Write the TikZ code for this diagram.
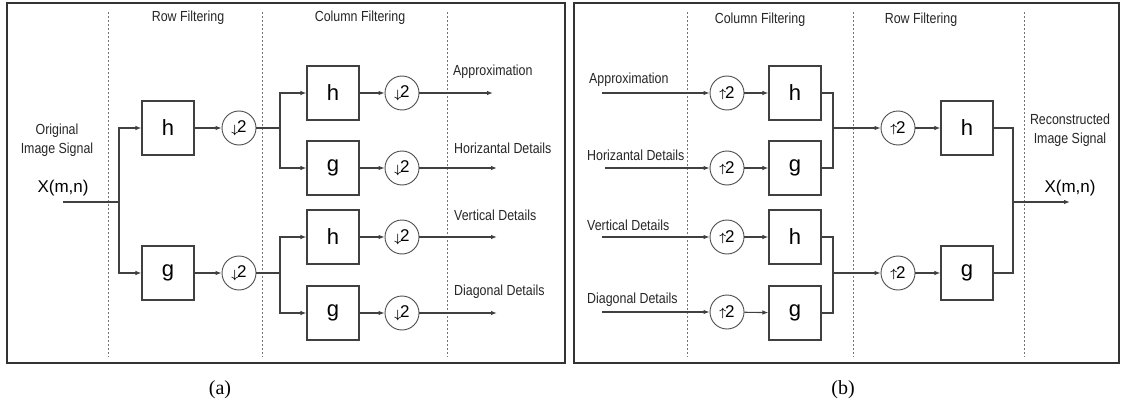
\documentclass[tikz,border=0pt]{standalone}
\usepackage{fontspec}
\setsansfont{Liberation Sans}
\setmainfont{Liberation Serif}
\newfontfamily\narrowfont[FakeStretch=0.85]{Liberation Sans}
\usetikzlibrary{arrows.meta, positioning, calc}
\newcommand{\dsamp}{\raisebox{-1pt}{$\scriptstyle\boldsymbol{\downarrow}$}\kern-1pt2}
\newcommand{\usamp}{\raisebox{0.5pt}{$\scriptstyle\boldsymbol{\uparrow}$}\kern-1pt2}
\usepackage{amsmath}

\begin{document}
\begin{tikzpicture}[
    x=1pt, y=-1pt,
    >={Latex[length=6pt, width=4.5pt]},
    filt/.style={draw=black!75, line width=1.1pt, minimum width=52pt, minimum height=54pt,
                 inner sep=0pt, font=\sffamily\fontsize{22}{22}\selectfont},
    samp/.style={draw=black!70, circle, line width=0.9pt, minimum size=34pt, inner sep=0pt,
                 font=\sffamily\fontsize{17}{17}\selectfont},
    wire/.style={draw=black!75, line width=1.1pt},
    arrow/.style={wire, ->},
    sep/.style={draw=black!55, dash pattern=on 2pt off 2pt, line width=0.8pt},
    frame/.style={draw=black!80, line width=1.6pt},
    label/.style={font=\narrowfont\fontsize{14.6}{19}\selectfont, text=black!85,
                  align=center, inner sep=0pt},
    sig/.style={font=\sffamily\fontsize{17}{17}\selectfont, inner sep=0pt},
    caption/.style={font=\rmfamily\fontsize{20}{20}\selectfont}
]
    \useasboundingbox (0,0) rectangle (1129,417);

    % Frames
    \draw[frame] (7,3) rectangle (565,363);
    \draw[frame] (574,3) rectangle (1119,363);

    % Stage separators
    \draw[sep] (108,12) -- (108,357);
    \draw[sep] (262,12) -- (262,357);
    \draw[sep] (447,12) -- (447,357);
    \draw[sep] (687,12) -- (687,357);
    \draw[sep] (853,12) -- (853,357);
    \draw[sep] (1024,12) -- (1024,357);

    % Stage headings
    \node[label] (rowA) at (188,18) {Row Filtering};
    \node[label] (colA) at (360,18) {Column Filtering};
    \node[label] (colB) at (760,20) {Column Filtering};
    \node[label] (rowB) at (921,20) {Row Filtering};

    % (a) decomposition: input
    \node[label] (origA) at (57,140) {Original\\Image Signal};
    \node[sig] (xinA) at (63,188) {X(m,n)};
    \coordinate (inA) at (63,202);
    \coordinate (brA) at (119,202);

    % (a) row filters
    \node[filt] (hA) at (168,128) {h};
    \node[filt] (gA) at (168,273) {g};
    \node[samp, right=27pt of hA] (dA1) {\dsamp};
    \node[samp, right=27pt of gA] (dA2) {\dsamp};
    \coordinate (jA1) at (280,128);
    \coordinate (jA2) at (280,273);

    % (a) column filters
    \node[filt] (hAA) at (333,93) {h};
    \node[filt] (gAA) at (333,168) {g};
    \node[filt] (hAB) at (333,237) {h};
    \node[filt] (gAB) at (333,313) {g};
    \node[samp, right=25pt of hAA] (dAA) {\dsamp};
    \node[samp, right=25pt of gAA] (dAB) {\dsamp};
    \node[samp, right=25pt of hAB] (dAC) {\dsamp};
    \node[samp, right=25pt of gAB] (dAD) {\dsamp};

    % (a) outputs
    \coordinate (oA1) at (493,93);
    \coordinate (oA2) at (497,168);
    \coordinate (oA3) at (497,237);
    \coordinate (oA4) at (497,313);
    \node[label, anchor=west] (apxA) at (453,72) {Approximation};
    \node[label, anchor=west] (horA) at (454,148) {Horizantal Details};
    \node[label, anchor=west] (verA) at (454,215) {Vertical Details};
    \node[label, anchor=west] (diaA) at (454,292) {Diagonal Details};

    % (a) connectors
    \draw[wire] (inA) -- (brA);
    \draw[arrow] (brA) |- (hA);
    \draw[arrow] (brA) |- (gA);
    \draw[arrow] (hA) -- (dA1);
    \draw[arrow] (gA) -- (dA2);
    \draw[wire] (dA1) -- (jA1);
    \draw[wire] (dA2) -- (jA2);
    \draw[arrow] (jA1) |- (hAA);
    \draw[arrow] (jA1) |- (gAA);
    \draw[arrow] (jA2) |- (hAB);
    \draw[arrow] (jA2) |- (gAB);
    \draw[arrow] (hAA) -- (dAA);
    \draw[arrow] (gAA) -- (dAB);
    \draw[arrow] (hAB) -- (dAC);
    \draw[arrow] (gAB) -- (dAD);
    \draw[arrow] (dAA) -- (oA1);
    \draw[arrow] (dAB) -- (oA2);
    \draw[arrow] (dAC) -- (oA3);
    \draw[arrow] (dAD) -- (oA4);

    % (b) reconstruction: inputs
    \node[label, anchor=west] (apxB) at (589,80) {Approximation};
    \node[label, anchor=west] (horB) at (587,155) {Horizantal Details};
    \node[label, anchor=west] (verB) at (587,225) {Vertical Details};
    \node[label, anchor=west] (diaB) at (587,300) {Diagonal Details};
    \coordinate (iB1) at (602,93);
    \coordinate (iB2) at (605,168);
    \coordinate (iB3) at (602,237);
    \coordinate (iB4) at (602,312);

    % (b) column filters
    \node[samp] (uB1) at (727,93) {\usamp};
    \node[samp] (uB2) at (727,168) {\usamp};
    \node[samp] (uB3) at (727,237) {\usamp};
    \node[samp] (uB4) at (727,312) {\usamp};
    \node[filt] (hBA) at (795,93) {h};
    \node[filt] (gBA) at (795,168) {g};
    \node[filt] (hBB) at (795,237) {h};
    \node[filt] (gBB) at (795,313) {g};
    \coordinate (jB1) at (833,128);
    \coordinate (jB2) at (833,273);

    % (b) row filters
    \node[samp] (uB5) at (898,128) {\usamp};
    \node[samp] (uB6) at (898,273) {\usamp};
    \node[filt] (hBC) at (967,128) {h};
    \node[filt] (gBC) at (967,273) {g};
    \coordinate (oB) at (1013,202);
    \coordinate (xoutB) at (1070,202);
    \node[label] (recB) at (1070,130) {Reconstructed\\Image Signal};
    \node[sig] (xB) at (1070,188) {X(m,n)};

    % (b) connectors
    \draw[arrow] (iB1) -- (uB1);
    \draw[arrow] (iB2) -- (uB2);
    \draw[arrow] (iB3) -- (uB3);
    \draw[arrow] (iB4) -- (uB4);
    \draw[arrow] (uB1) -- (hBA);
    \draw[arrow] (uB2) -- (gBA);
    \draw[arrow] (uB3) -- (hBB);
    \draw[arrow] (uB4) -- (gBB);
    \draw[wire] (hBA) -| (jB1);
    \draw[wire] (gBA) -| (jB1);
    \draw[wire] (hBB) -| (jB2);
    \draw[wire] (gBB) -| (jB2);
    \draw[arrow] (jB1) -- (uB5);
    \draw[arrow] (jB2) -- (uB6);
    \draw[arrow] (uB5) -- (hBC);
    \draw[arrow] (uB6) -- (gBC);
    \draw[wire] (hBC) -| (oB);
    \draw[wire] (gBC) -| (oB);
    \draw[arrow] (oB) -- (xoutB);

    % Captions
    \node[caption] (capA) at (220,390) {(a)};
    \node[caption] (capB) at (843,390) {(b)};
\end{tikzpicture}
\end{document}
